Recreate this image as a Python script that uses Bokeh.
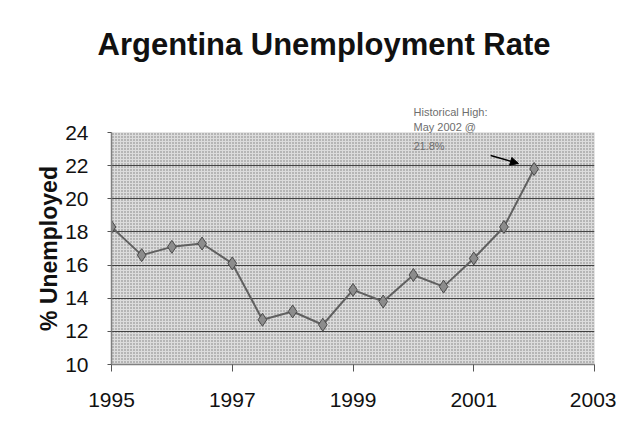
from bokeh.plotting import figure
from bokeh.models import (Label, Arrow, NormalHead, BoxAnnotation, FixedTicker, Range1d, Title)
from bokeh.embed import file_html
from bokeh.resources import INLINE

# ---- data (semi-annual survey dates, % unemployed) ----
dates = [1995.0, 1995.5, 1996.0, 1996.5, 1997.0, 1997.5, 1998.0, 1998.5,
         1999.0, 1999.5, 2000.0, 2000.5, 2001.0, 2001.5, 2002.0]
unemployed = [18.3, 16.6, 17.1, 17.3, 16.1, 12.7, 13.2, 12.4,
              14.5, 13.8, 15.4, 14.7, 16.4, 18.3, 21.8]
x_ticks = [1995, 1997, 1999, 2001, 2003]
y_ticks = [10, 12, 14, 16, 18, 20, 22, 24]
title_text = "Argentina Unemployment Rate"
y_label = "% Unemployed"
note_lines = ["Historical High:", "May 2002 @", "21.8%"]

FONT = "Liberation Sans"
NOTE_COLOR = "#6e6e6e"

p = figure(width=616, height=434, output_backend="svg", toolbar_location=None,
           x_range=Range1d(1995, 2003), y_range=Range1d(10, 24),
           min_border_left=111, min_border_right=22, min_border_top=132,
           min_border_bottom=70)
p.outline_line_color = None
p.background_fill_color = "#d4d4d4"
p.border_fill_color = "white"

# panel above the plot: note lines (nearest the frame), a small gap, then the main title
p.add_layout(Title(text=note_lines[1], align="left", offset=302, standoff=0,
                   text_font=FONT, text_font_size="11px", text_font_style="normal",
                   text_color=NOTE_COLOR), "above")
p.add_layout(Title(text=note_lines[0], align="left", offset=302, standoff=2,
                   text_font=FONT, text_font_size="11px", text_font_style="normal",
                   text_color=NOTE_COLOR), "above")
p.add_layout(Title(text=" ", align="left", standoff=2.5,
                   text_font=FONT, text_font_size="11px", text_color="white"), "above")
p.add_layout(Title(text=title_text, align="left", offset=-14, standoff=47,
                   text_font=FONT, text_font_size="31px", text_font_style="bold",
                   text_color="#111111"), "above")

# stipple texture over the plotting area
stipple = BoxAnnotation(level="image", fill_color="#dcdcdc", fill_alpha=1.0,
                        hatch_pattern="dot", hatch_scale=3, hatch_weight=1,
                        hatch_color="#7a7a7a", line_color=None)
p.add_layout(stipple)

# axes
for ax in (p.xaxis[0], p.yaxis[0]):
    ax.axis_line_color = "#808080"
    ax.axis_line_width = 1.5
    ax.major_tick_line_color = "#555555"
    ax.minor_tick_line_color = None
    ax.major_label_text_font = FONT
    ax.major_label_text_font_size = "21px"
    ax.major_label_text_color = "#111111"

p.xaxis.ticker = FixedTicker(ticks=x_ticks)
p.xaxis.major_tick_in = 0
p.xaxis.major_tick_out = 7
p.xaxis.major_label_standoff = 21

p.yaxis.ticker = FixedTicker(ticks=y_ticks)
p.yaxis.major_tick_in = 0
p.yaxis.major_tick_out = 4
p.yaxis.major_label_standoff = 19
p.yaxis.axis_label = y_label
p.yaxis.axis_label_text_font = FONT
p.yaxis.axis_label_text_font_size = "23px"
p.yaxis.axis_label_text_font_style = "bold"
p.yaxis.axis_label_text_color = "#111111"
p.yaxis.axis_label_standoff = 0

p.xgrid.grid_line_color = None
p.ygrid.ticker = FixedTicker(ticks=y_ticks[:-1])
p.ygrid.grid_line_color = "#2a2a2a"
p.ygrid.grid_line_width = 1
p.ygrid.grid_line_alpha = 0.85

# series
p.line(dates, unemployed, line_color="#606060", line_width=2)
p.scatter(dates, unemployed, marker="diamond", size=13,
          fill_color="#8c8c8c", line_color="#4a4a4a", line_width=1)

# annotation of the peak (last note line inside the plot area) + arrow
peak_x = dates[-1]
peak_y = unemployed[-1]
p.add_layout(Label(x=peak_x - 2.0, y=peak_y + 1.36, text=note_lines[2],
                   text_font=FONT, text_font_size="11px",
                   text_color=NOTE_COLOR, text_baseline="middle", text_align="left"))
p.add_layout(Arrow(x_start=peak_x - 0.72, y_start=peak_y + 0.81,
                   x_end=peak_x - 0.26, y_end=peak_y + 0.33,
                   line_color="black", line_width=1.5,
                   end=NormalHead(size=8, fill_color="black", line_color="black")))

open("out.html", "w").write(file_html(p, INLINE))
